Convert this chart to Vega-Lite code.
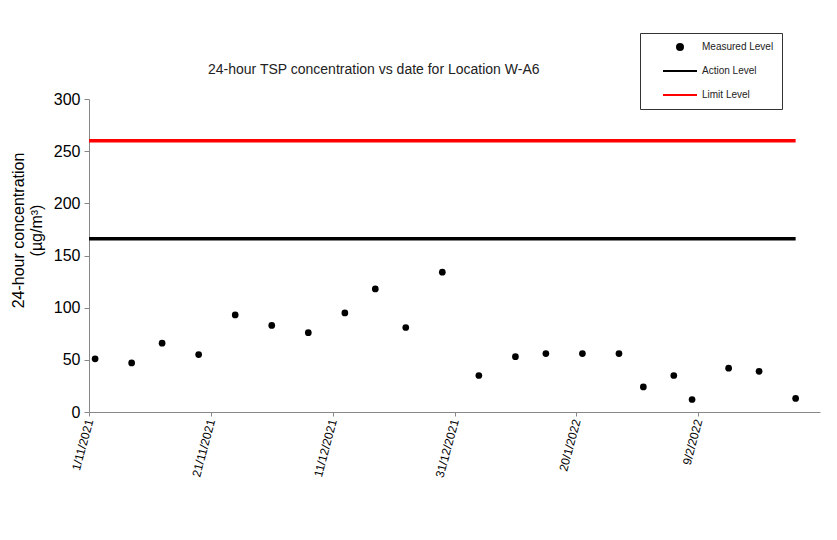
{
  "$schema": "https://vega.github.io/schema/vega-lite/v6.json",
  "autosize": "none",
  "padding": {"left": 89, "top": 99, "right": 17, "bottom": 128},
  "width": 731,
  "height": 313,
  "background": "white",
  "config": {
    "font": "Liberation Sans",
    "view": {"stroke": null},
    "axis": {"grid": false, "domainColor": "#888", "tickColor": "#888", "labelColor": "#000", "titleColor": "#000", "titleFontWeight": "normal"}
  },
  "title": {
    "text": "24-hour TSP concentration vs date for Location W-A6",
    "anchor": "start",
    "frame": "group",
    "dx": 119,
    "offset": 24,
    "dy": 68,
    "fontSize": 14,
    "fontWeight": "normal",
    "color": "#222"
  },
  "datasets": {
    "measured": [
      {"date": "2021-11-02", "value": 51, "series": "Measured Level"},
      {"date": "2021-11-08", "value": 47, "series": "Measured Level"},
      {"date": "2021-11-13", "value": 66, "series": "Measured Level"},
      {"date": "2021-11-19", "value": 55, "series": "Measured Level"},
      {"date": "2021-11-25", "value": 93, "series": "Measured Level"},
      {"date": "2021-12-01", "value": 83, "series": "Measured Level"},
      {"date": "2021-12-07", "value": 76, "series": "Measured Level"},
      {"date": "2021-12-13", "value": 95, "series": "Measured Level"},
      {"date": "2021-12-18", "value": 118, "series": "Measured Level"},
      {"date": "2021-12-23", "value": 81, "series": "Measured Level"},
      {"date": "2021-12-29", "value": 134, "series": "Measured Level"},
      {"date": "2022-01-04", "value": 35, "series": "Measured Level"},
      {"date": "2022-01-10", "value": 53, "series": "Measured Level"},
      {"date": "2022-01-15", "value": 56, "series": "Measured Level"},
      {"date": "2022-01-21", "value": 56, "series": "Measured Level"},
      {"date": "2022-01-27", "value": 56, "series": "Measured Level"},
      {"date": "2022-01-31", "value": 24, "series": "Measured Level"},
      {"date": "2022-02-05", "value": 35, "series": "Measured Level"},
      {"date": "2022-02-08", "value": 12, "series": "Measured Level"},
      {"date": "2022-02-14", "value": 42, "series": "Measured Level"},
      {"date": "2022-02-19", "value": 39, "series": "Measured Level"},
      {"date": "2022-02-25", "value": 13, "series": "Measured Level"}
    ],
    "levels": [
      {"series": "Action Level", "date": "2021-11-01", "end": "2022-02-25", "value": 166},
      {"series": "Limit Level", "date": "2021-11-01", "end": "2022-02-25", "value": 260}
    ]
  },
  "encoding": {
    "x": {
      "field": "date",
      "type": "temporal",
      "scale": {"type": "utc", "domain": [{"year": 2021, "month": 11, "date": 1, "utc": true}, {"year": 2022, "month": 3, "date": 1, "utc": true}]},
      "axis": {
        "title": null,
        "labelExpr": "utcFormat(datum.value, '%-d/%-m/%Y')",
        "values": [
          {"year": 2021, "month": 11, "date": 1, "utc": true},
          {"year": 2021, "month": 11, "date": 21, "utc": true},
          {"year": 2021, "month": 12, "date": 11, "utc": true},
          {"year": 2021, "month": 12, "date": 31, "utc": true},
          {"year": 2022, "month": 1, "date": 20, "utc": true},
          {"year": 2022, "month": 2, "date": 9, "utc": true}
        ],
        "labelAngle": -75,
        "labelFontSize": 12,
        "labelPadding": 3,
        "tickSize": 4
      }
    },
    "y": {
      "field": "value",
      "type": "quantitative",
      "scale": {"domain": [0, 300], "nice": false, "zero": true},
      "axis": {
        "values": [0, 50, 100, 150, 200, 250, 300],
        "title": ["24-hour concentration", "(µg/m³)"],
        "titleFontSize": 16,
        "titleY": 131,
        "titlePadding": 9,
        "labelFontSize": 16,
        "labelPadding": 4,
        "tickSize": 5
      }
    },
    "color": {
      "field": "series",
      "type": "nominal",
      "scale": {"domain": ["Measured Level", "Action Level", "Limit Level"], "range": ["black", "black", "red"]},
      "legend": {
        "title": null,
        "orient": "none",
        "legendX": 551,
        "legendY": -66,
        "strokeColor": "#333",
        "fillColor": "white",
        "padding": 8,
        "rowPadding": 12,
        "clipHeight": 12,
        "symbolSize": 36,
        "symbolOffset": 14,
        "labelFontSize": 10,
        "labelOffset": 4,
        "labelColor": "#222",
        "encode": {
          "symbols": {
            "update": {
              "shape": {"signal": "datum.value === 'Measured Level' ? 'circle' : 'stroke'"},
              "size": {"signal": "datum.value === 'Measured Level' ? 36 : 1156"},
              "strokeWidth": {"value": 2},
              "stroke": {"signal": "datum.value === 'Limit Level' ? 'red' : 'black'"},
              "fill": {"signal": "datum.value === 'Limit Level' ? 'red' : 'black'"}
            }
          }
        }
      }
    }
  },
  "layer": [
    {
      "data": {"name": "levels"},
      "mark": {"type": "rule", "strokeWidth": 3.5},
      "encoding": {
        "x2": {"field": "end"}
      }
    },
    {
      "data": {"name": "measured"},
      "mark": {"type": "point", "filled": true, "shape": "circle", "size": 45, "opacity": 1}
    }
  ]
}
